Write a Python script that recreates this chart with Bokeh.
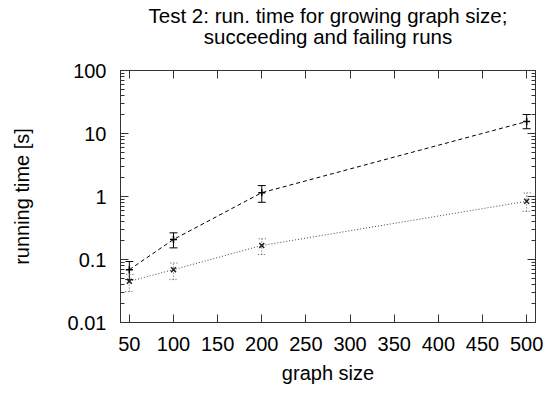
from bokeh.plotting import figure
from bokeh.models import (ColumnDataSource, Whisker, TeeHead, LinearAxis, LogAxis,
                          FixedTicker, CustomJSTickFormatter, Title, Range1d)
from bokeh.embed import file_html
from bokeh.resources import INLINE

# data
sizes = [50, 100, 200, 500]
succ_mean = [0.069, 0.208, 1.15, 15.5]
succ_low = [0.048, 0.153, 0.81, 11.9]
succ_high = [0.093, 0.265, 1.49, 20.0]
fail_mean = [0.045, 0.069, 0.167, 0.84]
fail_low = [0.031, 0.048, 0.12, 0.58]
fail_high = [0.058, 0.088, 0.213, 1.14]
x_ticks = [50, 100, 150, 200, 250, 300, 350, 400, 450, 500]
y_ticks = [0.01, 0.1, 1, 10, 100]
title_lines = ["Test 2: run. time for growing graph size;", "succeeding and failing runs"]

FONT = "Liberation Sans"
y_minor = [m * d for d in [0.01, 0.1, 1, 10] for m in range(2, 10)]

p = figure(width=558, height=393, output_backend="svg", toolbar_location=None,
           y_axis_type="log", x_range=Range1d(40, 510), y_range=Range1d(0.01, 100),
           min_border_left=120, min_border_right=23, min_border_top=70, min_border_bottom=71)
p.grid.visible = False
p.outline_line_color = "#333333"
p.background_fill_color = "white"
p.border_fill_color = "white"

src_s = ColumnDataSource(dict(x=sizes, y=succ_mean, lo=succ_low, hi=succ_high))
src_f = ColumnDataSource(dict(x=sizes, y=fail_mean, lo=fail_low, hi=fail_high))

p.line("x", "y", source=src_s, line_color="black", line_dash="4 3", line_width=1)
p.line("x", "y", source=src_f, line_color="#444444", line_dash="1 2", line_width=1)

p.add_layout(Whisker(base="x", upper="hi", lower="lo", source=src_s, line_color="black",
                     line_width=1,
                     upper_head=TeeHead(size=8, line_color="black", line_width=1),
                     lower_head=TeeHead(size=8, line_color="black", line_width=1)))
p.add_layout(Whisker(base="x", upper="hi", lower="lo", source=src_f, line_color="#555555",
                     line_width=1, line_dash="1 2",
                     upper_head=TeeHead(size=8, line_color="#555555", line_width=1, line_dash="1 2"),
                     lower_head=TeeHead(size=8, line_color="#555555", line_width=1, line_dash="1 2")))

p.scatter("x", "y", source=src_s, marker="cross", size=7, line_color="black", line_width=1.5)
p.scatter("x", "y", source=src_f, marker="x", size=7, line_color="#222222", line_width=1.5)

fmt = CustomJSTickFormatter(code="return tick.toString();")
blank = CustomJSTickFormatter(code="return '';")

xa = p.xaxis[0]
xa.ticker = FixedTicker(ticks=x_ticks)
xa.axis_label = "graph size"
ya = p.yaxis[0]
ya.ticker = FixedTicker(ticks=y_ticks, minor_ticks=y_minor)
ya.formatter = fmt
ya.axis_label = "running time [s]"

for ax in (xa, ya):
    ax.major_label_text_font = FONT
    ax.major_label_text_font_size = "20px"
    ax.major_label_text_color = "black"
    ax.axis_label_text_font = FONT
    ax.axis_label_text_font_size = "20px"
    ax.axis_label_text_font_style = "normal"
    ax.axis_label_text_color = "black"
    ax.axis_line_color = "#333333"
    ax.major_tick_in = 8
    ax.major_tick_out = 0
    ax.minor_tick_in = 4
    ax.minor_tick_out = 0
    ax.major_tick_line_color = "#333333"
    ax.minor_tick_line_color = "#333333"
xa.minor_tick_in = 0
xa.major_label_standoff = 14
xa.axis_label_standoff = 8
ya.major_label_standoff = 14
ya.axis_label_standoff = 32

top = LinearAxis(ticker=FixedTicker(ticks=x_ticks), formatter=blank,
                 major_tick_in=8, major_tick_out=0, minor_tick_in=0, minor_tick_out=0,
                 axis_line_color="#333333", major_tick_line_color="#333333",
                 major_label_standoff=0)
right = LogAxis(ticker=FixedTicker(ticks=y_ticks, minor_ticks=y_minor), formatter=blank,
                major_tick_in=8, major_tick_out=0, minor_tick_in=4, minor_tick_out=0,
                axis_line_color="#333333", major_tick_line_color="#333333",
                minor_tick_line_color="#333333", major_label_standoff=0)
p.add_layout(top, "above")
p.add_layout(right, "right")

# spacer panel between frame and the title lines
p.add_layout(Title(text=" ", text_font=FONT, text_font_size="20.5px", standoff=-2), "above")
p.add_layout(Title(text=title_lines[1], align="center", text_font=FONT, text_font_size="20.5px",
                   text_font_style="normal", text_color="black", standoff=0), "above")
p.add_layout(Title(text=title_lines[0], align="center", text_font=FONT, text_font_size="20.5px",
                   text_font_style="normal", text_color="black", standoff=-9), "above")

open("out.html", "w").write(file_html(p, INLINE))
